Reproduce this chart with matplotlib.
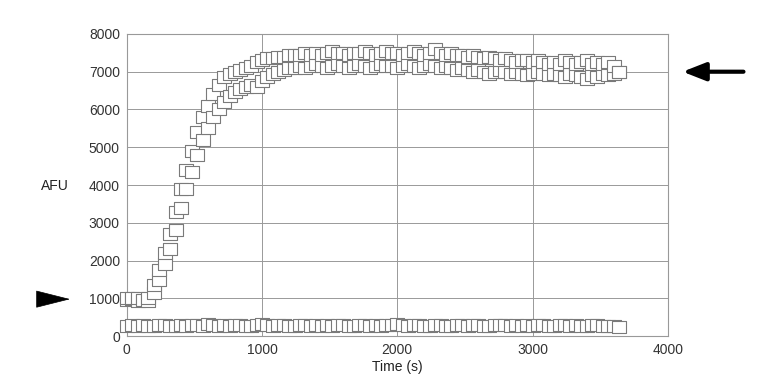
import numpy as np
import matplotlib
matplotlib.use('Agg')
import matplotlib.pyplot as plt

plt.rcParams['font.family'] = ['Liberation Sans', 'DejaVu Sans']

#------------------------------#
# data     #
#------------------------------#

# sampling times (s), one reading every 40 s
time_s = np.arange(0, 3641, 40)

# replicate with the higher plateau
afu_rep1 = [1000, 1000, 1000, 950, 1000, 1350, 1750, 2200, 2700, 3300,
            3900, 4400, 4900, 5400, 5800, 6100, 6400, 6650, 6850, 6950,
            7000, 7050, 7100, 7150, 7250, 7300, 7350, 7350, 7400, 7400,
            7450, 7450, 7450, 7500, 7450, 7500, 7450, 7500, 7550, 7500,
            7500, 7450, 7500, 7500, 7550, 7500, 7450, 7500, 7550, 7500,
            7500, 7450, 7500, 7550, 7500, 7450, 7500, 7600, 7500, 7450,
            7500, 7450, 7450, 7400, 7450, 7400, 7350, 7400, 7350, 7300,
            7350, 7300, 7250, 7300, 7300, 7250, 7300, 7250, 7200, 7250,
            7200, 7300, 7250, 7200, 7250, 7300, 7200, 7250, 7200, 7250,
            7150, 7000]

# replicate with the lower plateau
afu_rep2 = [950, 980, 920, 950, 930, 1150, 1500, 1900, 2300, 2800,
            3400, 3900, 4350, 4800, 5200, 5500, 5800, 6000, 6200, 6350,
            6450, 6550, 6600, 6650, 6600, 6750, 6850, 6950, 7000, 7050,
            7100, 7100, 7150, 7100, 7150, 7200, 7150, 7100, 7150, 7200,
            7150, 7100, 7150, 7200, 7150, 7100, 7150, 7200, 7150, 7150,
            7100, 7150, 7200, 7150, 7100, 7150, 7200, 7150, 7100, 7150,
            7100, 7050, 7100, 7050, 7000, 7050, 7000, 6950, 7000, 7050,
            7000, 6950, 7000, 6950, 6900, 6950, 7000, 6950, 6900, 6950,
            6900, 6850, 6950, 6900, 6850, 6800, 6900, 6850, 6950, 6900,
            6950, 7000]

# control (baseline) trace
afu_ctrl = [280, 290, 270, 300, 280, 260, 290, 300, 280, 270,
            290, 280, 300, 290, 270, 310, 300, 280, 290, 270,
            300, 290, 280, 270, 300, 310, 290, 280, 300, 290,
            280, 270, 290, 300, 280, 290, 270, 300, 280, 290,
            300, 280, 270, 290, 300, 280, 290, 270, 300, 290,
            310, 290, 280, 300, 290, 270, 280, 300, 290, 280,
            270, 290, 300, 280, 290, 300, 270, 280, 290, 300,
            290, 280, 300, 270, 290, 280, 300, 290, 280, 270,
            290, 300, 280, 290, 270, 280, 290, 300, 280, 270,
            260, 250]

x_ticks = [0, 1000, 2000, 3000, 4000]
y_ticks = [0, 1000, 2000, 3000, 4000, 5000, 6000, 7000, 8000]

#------------------------------#
# plot                         #
#------------------------------#

fig = plt.figure(figsize=(7.64, 3.90), dpi=100)
ax = fig.add_axes([0.166, 0.138, 0.708, 0.775])

box = [(-1, -0.85), (1, -0.85), (1, 0.85), (-1, 0.85), (-1, -0.85)]
style = dict(linestyle='none', marker=box, markersize=10.5,
             markerfacecolor='white', markeredgecolor='#7a7a7a',
             markeredgewidth=0.8, clip_on=False, zorder=3)

ax.plot(time_s, afu_ctrl, **style)
for i in range(len(time_s)):
    ax.plot(time_s[i], afu_rep2[i], **style)
    ax.plot(time_s[i], afu_rep1[i], **style)

ax.set_xlim(0, 4000)
ax.set_ylim(0, 8000)
ax.set_xticks(x_ticks)
ax.set_yticks(y_ticks)
ax.tick_params(length=0, labelsize=10, colors='#333333')
ax.tick_params(axis='x', pad=5)
ax.tick_params(axis='y', pad=5)
ax.grid(color='#999999', linewidth=0.7)
ax.set_axisbelow(True)
for s in ax.spines.values():
    s.set_color('#999999')
    s.set_linewidth(0.8)

ax.set_xlabel('Time (s)', fontsize=10, color='#222222', labelpad=2)
ax.set_ylabel('AFU', fontsize=10, color='#222222', rotation=0,
              ha='center', va='center')
ax.yaxis.set_label_coords(-0.133, 0.497)

# arrowheads marking start level and plateau
ax.annotate('', xy=(-420, 980), xytext=(-660, 980), annotation_clip=False,
            arrowprops=dict(arrowstyle='-|>,head_length=2.3,head_width=0.58',
                            color='black', lw=0.5, shrinkA=0, shrinkB=0))
ax.annotate('', xy=(4110, 7000), xytext=(4560, 7000), annotation_clip=False,
            arrowprops=dict(arrowstyle='-|>,head_length=1.4,head_width=0.55',
                            color='black', lw=3, shrinkA=0, shrinkB=0))

fig.savefig('out.png', dpi=100)
